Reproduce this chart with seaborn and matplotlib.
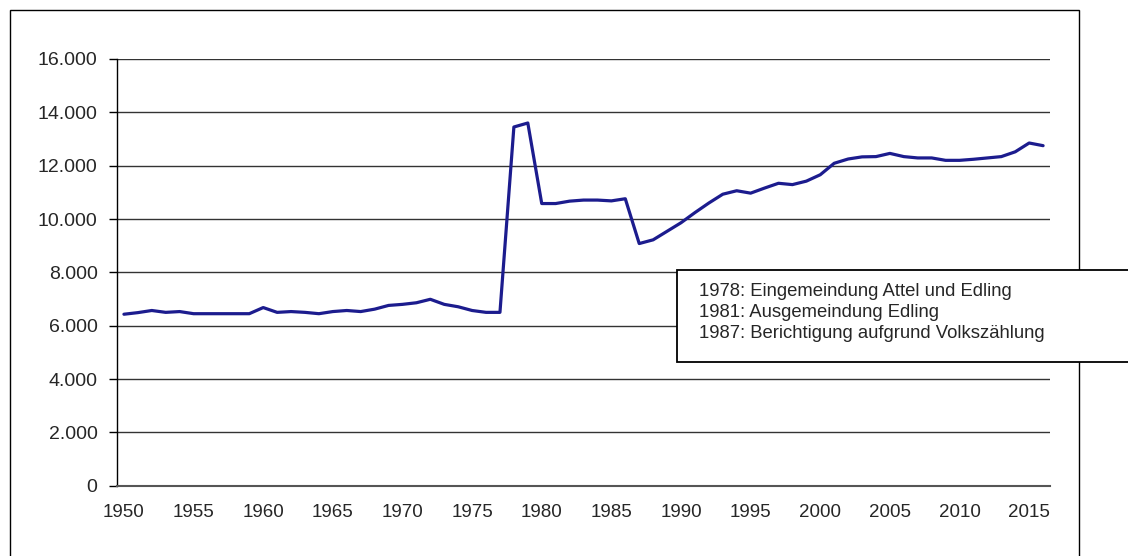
import matplotlib
matplotlib.use("Agg")
import matplotlib.pyplot as plt
import matplotlib.ticker as mticker
from matplotlib.patches import Rectangle
import seaborn as sns
import pandas as pd

# population per year
years = list(range(1950, 2017))
population = [
    6430, 6490, 6570, 6500, 6530, 6450, 6450, 6450, 6450, 6450,   # 1950-59
    6680, 6500, 6530, 6500, 6450, 6530, 6570, 6530, 6620, 6760,   # 1960-69
    6800, 6860, 6990, 6800, 6710, 6570, 6500, 6500, 13450, 13600, # 1970-79
    10580, 10580, 10670, 10710, 10710, 10680, 10760, 9080, 9220, 9540,  # 1980-89
    9860, 10240, 10600, 10930, 11060, 10970, 11160, 11340, 11290, 11420,  # 1990-99
    11660, 12090, 12250, 12330, 12340, 12460, 12340, 12290, 12290, 12200,  # 2000-09
    12200, 12240, 12290, 12340, 12520, 12850, 12750,              # 2010-16
]
x_ticks = list(range(1950, 2016, 5))
y_ticks = list(range(0, 16001, 2000))
notes = [
    "1978: Eingemeindung Attel und Edling",
    "1981: Ausgemeindung Edling",
    "1987: Berichtigung aufgrund Volkszählung",
]

df = pd.DataFrame({"Jahr": years, "Einwohner": population})

sns.set_style("white")
plt.rcParams["font.family"] = ["Liberation Sans", "DejaVu Sans"]

fig = plt.figure(figsize=(11.28, 5.56), dpi=100)
ax = fig.add_axes([0.1037, 0.1264, 0.8272, 0.7675])

sns.lineplot(data=df, x="Jahr", y="Einwohner", color="#1c1c8e", linewidth=2.3, ax=ax)

ax.set_xlim(1949.5, 2016.5)
ax.set_ylim(0, 16000)
ax.set_xticks(x_ticks)
ax.set_yticks(y_ticks)
ax.yaxis.set_major_formatter(
    mticker.FuncFormatter(lambda v, p: f"{int(v):,}".replace(",", "."))
)
ax.set_xlabel("")
ax.set_ylabel("")
ax.grid(axis="y", color="#333333", linewidth=1.0)
ax.set_axisbelow(True)

for side in ["top", "right"]:
    ax.spines[side].set_visible(False)
ax.spines["left"].set_color("black")
ax.spines["left"].set_linewidth(1.0)
ax.spines["bottom"].set_color("#555555")
ax.spines["bottom"].set_linewidth(1.5)

ax.tick_params(axis="y", which="both", left=True, length=6, width=1,
               color="black", labelsize=14, pad=8)
ax.tick_params(axis="x", which="both", bottom=False, labelsize=13.5, pad=10)

# outer chart frame
fig.patches.append(Rectangle((0.0089, -0.1), 0.9477, 1.082, transform=fig.transFigure,
                             fill=False, edgecolor="black", linewidth=1.0, zorder=1))

# annotation box
fig.patches.append(Rectangle((0.6002, 0.349), 0.6, 0.1655, transform=fig.transFigure,
                             facecolor="white", edgecolor="black", linewidth=1.3, zorder=5))
for i, line in enumerate(notes):
    fig.text(699 / 1128, 1 - (292 + i * 20.5) / 556, line, fontsize=13.3,
             va="center", ha="left", zorder=6)

fig.savefig("out.png", dpi=100)
